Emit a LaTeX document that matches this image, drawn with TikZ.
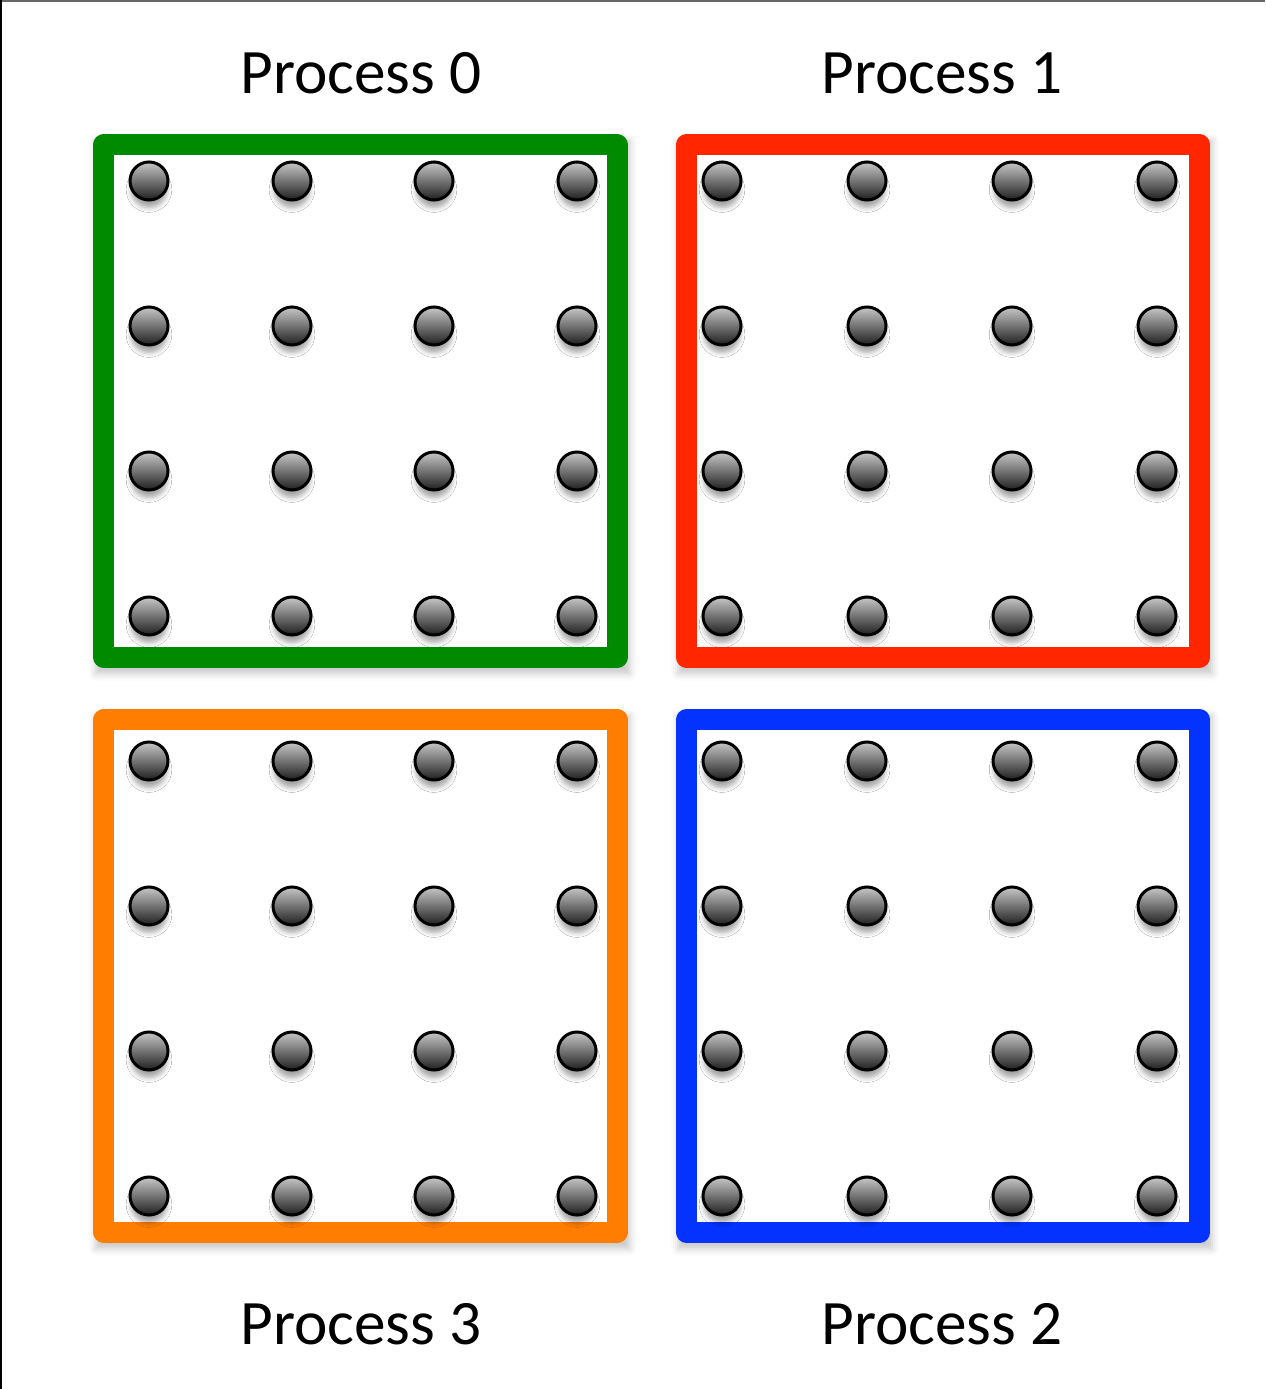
\documentclass[tikz,border=0pt]{standalone}
\usepackage{fontspec}
\setmainfont{Carlito}
\usetikzlibrary{shadows.blur}

\definecolor{procgreen}{RGB}{0,138,0}
\definecolor{procred}{RGB}{255,38,0}
\definecolor{procorange}{RGB}{255,125,0}
\definecolor{procblue}{RGB}{4,51,255}

\tikzset{
  procbox/.style={draw=#1, fill=white, line width=0.21cm, line join=round,
    minimum width=5.13cm, minimum height=5.12cm, inner sep=0pt,
    blur shadow={shadow xshift=0.02cm, shadow yshift=-0.06cm,
      shadow scale=1.04, shadow opacity=22}},
  ball/.style={circle, draw=black, line width=0.03cm, minimum size=0.38cm,
    inner sep=0pt, top color=black!22, bottom color=black!88,
    blur shadow={shadow xshift=0cm, shadow yshift=-0.09cm, shadow scale=0.95,
      shadow blur radius=0.05cm, shadow opacity=35}},
  proclabel/.style={anchor=base, font=\fontsize{18}{20}\selectfont}
}

\begin{document}
\begin{tikzpicture}[x=0.01cm, y=-0.01cm]
\useasboundingbox (0,0) rectangle (1265,1389);
\draw[black!60, line width=0.02cm] (0,1) -- (1265,1);
\draw[black, line width=0.015cm] (1,0) -- (1,1389);

% the four blocks
\node[procbox=procgreen]  (box0) at (360.5,401) {};
\node[procbox=procred]    (box1) at (943,401) {};
\node[procbox=procblue]   (box2) at (943,976) {};
\node[procbox=procorange] (box3) at (360.5,976) {};

% grid points of each block
\foreach \y [count=\r] in {181,326,471,616} {
  \foreach \x [count=\c] in {149,292,434,577}
    \node[ball] (p0-\r-\c) at (\x,\y) {};
  \foreach \x [count=\c] in {722,867,1012,1157}
    \node[ball] (p1-\r-\c) at (\x,\y) {};
}
\foreach \y [count=\r] in {761,906,1051,1196} {
  \foreach \x [count=\c] in {149,292,434,577}
    \node[ball] (p3-\r-\c) at (\x,\y) {};
  \foreach \x [count=\c] in {722,867,1012,1157}
    \node[ball] (p2-\r-\c) at (\x,\y) {};
}

% labels
\node[proclabel] (t0) at (361,94) {Process 0};
\node[proclabel] (t1) at (942,94) {Process 1};
\node[proclabel] (t3) at (361,1344) {Process 3};
\node[proclabel] (t2) at (942,1344) {Process 2};
\end{tikzpicture}
\end{document}
